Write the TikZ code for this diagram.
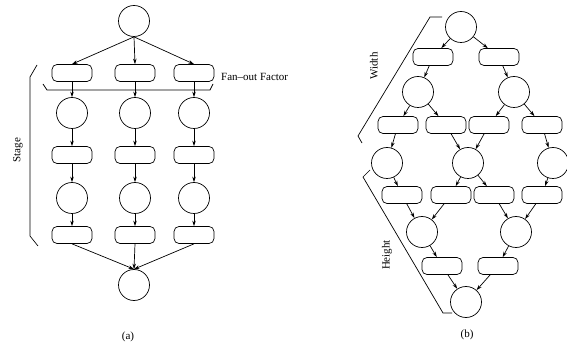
\documentclass[tikz,border=0pt]{standalone}
\usepackage{fontspec}
\setmainfont{Liberation Serif}
\usetikzlibrary{arrows.meta}
\begin{document}
\begin{tikzpicture}[x=1pt,y=-1pt,
  circ/.style={draw,circle,minimum size=31pt,inner sep=0pt,line width=0.7pt},
  rbox/.style={draw,rounded corners=5pt,minimum width=40pt,minimum height=17pt,inner sep=0pt,line width=0.7pt},
  arr/.style={-{Stealth[length=5.5pt,width=3.5pt]},line width=0.7pt},
  brk/.style={line width=0.7pt},
  lbl/.style={font=\fontsize{11}{13}\selectfont,inner sep=0pt}]
\useasboundingbox (0,0) rectangle (567,352);
% ---------------- (a)
\node[circ] (a0) at (134,21) {};
\foreach \c/\x in {1/72,2/135,3/194}{
  \node[rbox] (ar1\c) at (\x,73) {};
  \node[circ] (ac2\c) at (\x,113) {};
  \node[rbox] (ar3\c) at (\x,155) {};
  \node[circ] (ac4\c) at (\x,198) {};
  \node[rbox] (ar5\c) at (\x,235) {};
}
\node[circ] (aend) at (134,285) {};
\foreach \c in {1,2,3}{
  \draw[arr] (a0.south) -- (ar1\c.north);
  \draw[arr] (ar1\c) -- (ac2\c);
  \draw[arr] (ac2\c) -- (ar3\c);
  \draw[arr] (ar3\c) -- (ac4\c);
  \draw[arr] (ac4\c) -- (ar5\c);
  \draw[arr] (ar5\c.south) -- (aend.north);
}
% fan-out bracket
\coordinate (f1) at (43,84); \coordinate (f2) at (47,90);
\coordinate (f3) at (210,90); \coordinate (f4) at (213,84);
\draw[brk] (f1) -- (f2) -- (f3) -- (f4);
\node[lbl,anchor=west] (fan) at (221,77) {Fan--out Factor};
% stage bracket
\coordinate (s1) at (37,65); \coordinate (s2) at (30,77);
\coordinate (s3) at (30,236); \coordinate (s4) at (38,246);
\draw[brk] (s1) -- (s2) -- (s3) -- (s4);
\node[lbl,rotate=90] (stage) at (18,150) {Stage};
\node[lbl] (la) at (128,337) {(a)};
% ---------------- (b)
\node[circ] (b0) at (461,27) {};
\node[rbox] (br11) at (433,57) {};
\node[rbox] (br12) at (499,57) {};
\node[circ] (bc21) at (418,92) {};
\node[circ] (bc22) at (514,92) {};
\node[rbox] (br31) at (398,125) {};
\node[rbox] (br32) at (446,125) {};
\node[rbox] (br33) at (489,125) {};
\node[rbox] (br34) at (542,125) {};
\node[circ] (bc41) at (387,163) {};
\node[circ] (bc42) at (468,163) {};
\node[circ] (bc43) at (553,163) {};
\node[rbox] (br51) at (402,195) {};
\node[rbox] (br52) at (451,195) {};
\node[rbox] (br53) at (494,195) {};
\node[rbox] (br54) at (542,195) {};
\node[circ] (bc61) at (422,232) {};
\node[circ] (bc62) at (516,232) {};
\node[rbox] (br71) at (442,266) {};
\node[rbox] (br72) at (498,266) {};
\node[circ] (bend) at (466,302) {};
\foreach \s/\t in {b0/br11,b0/br12,br11/bc21,br12/bc22,
  bc21/br31,bc21/br32,bc22/br33,bc22/br34,
  br31/bc41,br32/bc42,br33/bc42,br34/bc43,
  bc41/br51,bc42/br52,bc42/br53,bc43/br54,
  br51/bc61,br52/bc61,br53/bc62,br54/bc62,
  bc61/br71,bc62/br72,br71/bend,br72/bend}{
  \draw[arr] (\s) -- (\t);
}
% width bracket
\coordinate (w1) at (442,17); \coordinate (w2) at (430,17);
\coordinate (w3) at (358,136); \coordinate (w4) at (362,143);
\draw[brk] (w1) -- (w2) -- (w3) -- (w4);
\node[lbl,rotate=90] (width) at (374,66) {Width};
% height bracket
\coordinate (h1) at (370,170); \coordinate (h2) at (363,177);
\coordinate (h3) at (443,313); \coordinate (h4) at (452,313);
\draw[brk] (h1) -- (h2) -- (h3) -- (h4);
\node[lbl,rotate=90] (height) at (387,255) {Height};
\node[lbl] (lb) at (467,335) {(b)};
\end{tikzpicture}
\end{document}
